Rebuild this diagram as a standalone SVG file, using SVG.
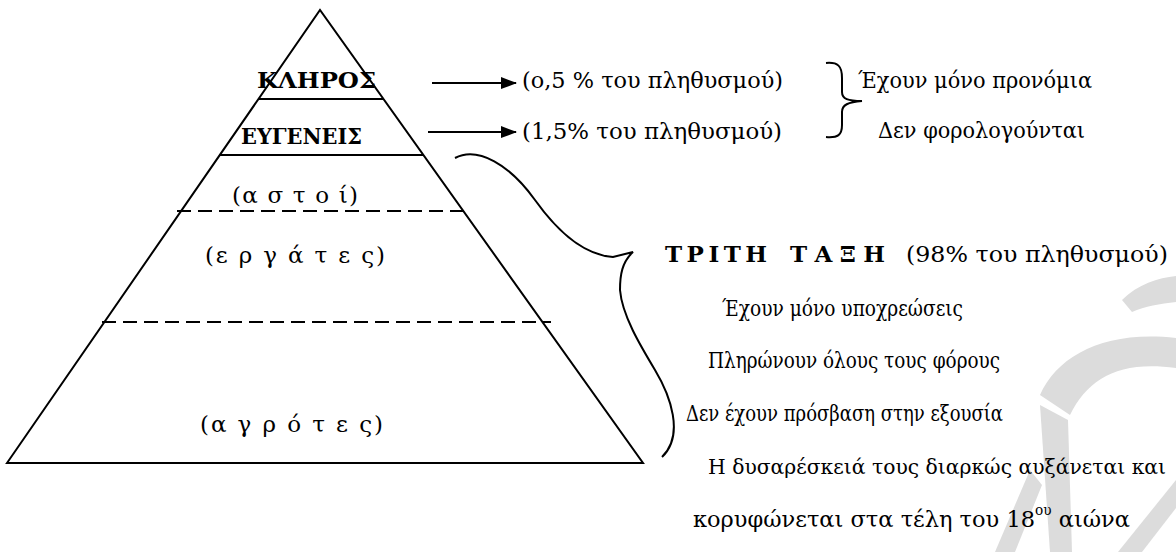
<svg xmlns="http://www.w3.org/2000/svg" width="1176" height="552" viewBox="0 0 1176 552" font-family="'DejaVu Serif', serif">
<defs>
<marker id="ah" markerWidth="16" markerHeight="12" refX="15" refY="6" orient="auto" markerUnits="userSpaceOnUse">
<path d="M0,0 L16,6 L0,12 Z" fill="#000"/>
</marker>
<style>
text{font-family:'DejaVu Serif',serif;fill:#000;font-size:23px}
.b{font-weight:bold}
.sup{font-size:14px}
.sm{font-size:20px}
.ln{stroke:#000;stroke-width:2;fill:none}
.ds{stroke:#000;stroke-width:2;fill:none;stroke-dasharray:14 7}
.br{stroke:#000;stroke-width:2;fill:none}
.wm{fill:#dcdcdc}
</style>
</defs>
<rect width="1176" height="552" fill="#fff"/>
<g id="watermark">
<path class="wm" d="M1122,300 C1138,284 1158,278 1176,276 L1176,302 C1160,304 1145,306 1132,312 Z"/>
<path class="wm" d="M1040,395 C1058,355 1105,330 1176,338 L1176,368 C1120,360 1088,378 1070,415 Z"/>
<path class="wm" d="M1040,405 L1068,420 L1072,552 L1050,552 Z"/>
<path class="wm" d="M995,552 L1030,470 L1042,485 L1015,552 Z"/>
<path class="wm" d="M1118,552 L1176,480 L1176,508 L1142,552 Z"/>
</g>
<g id="pyramid">
<path class="ln" d="M7,463 L320,10 L643,463 Z"/>
<line class="ln" x1="258" y1="99" x2="383" y2="99"/>
<line class="ln" x1="219" y1="155" x2="424" y2="155"/>
<line class="ds" x1="177" y1="211" x2="465" y2="211"/>
<line class="ds" x1="102" y1="322" x2="551" y2="322"/>
</g>
<g id="kleros"><text class="b" x="257" y="88" textLength="119" lengthAdjust="spacingAndGlyphs">ΚΛΗΡΟΣ</text></g>
<g id="eugeneis"><text class="b" x="241" y="144" textLength="121" lengthAdjust="spacingAndGlyphs">ΕΥΓΕΝΕΙΣ</text></g>
<g id="astoi"><text x="232" y="203" textLength="126" lengthAdjust="spacing">(α σ τ ο ί)</text></g>
<g id="ergates"><text x="205" y="263" textLength="180" lengthAdjust="spacing">(ε ρ γ ά τ ε ς)</text></g>
<g id="agrotes"><text x="200" y="432" textLength="183" lengthAdjust="spacing">(α γ ρ ό τ ε ς)</text></g>
<g id="connectors">
<line class="ln" x1="432" y1="83" x2="516" y2="83" marker-end="url(#ah)"/>
<line class="ln" x1="428" y1="132" x2="516" y2="132" marker-end="url(#ah)"/>
<path class="br" d="M826,63 C838,62 842,66 842,78 L842,92 C842,99 848,101 862,101 C848,102 842,105 842,112 L842,125 C842,135 838,138 826,137"/>
<path class="br" d="M455,158 C478,146 510,165 535,200 C560,235 585,255 613,257 L633,252 C622,262 620,275 620,290 C622,315 640,345 655,370 C670,395 685,435 662,457"/>
</g>
<g id="clergy-info"><text x="522" y="88" textLength="261" lengthAdjust="spacingAndGlyphs">(ο,5 % του πληθυσμού)</text></g>
<g id="nobles-info"><text x="522" y="139" textLength="260" lengthAdjust="spacingAndGlyphs">(1,5% του πληθυσμού)</text></g>
<g id="privileges">
<text x="858" y="88" textLength="234" lengthAdjust="spacingAndGlyphs">Έχουν μόνο προνόμια</text>
<text x="878" y="138" textLength="207" lengthAdjust="spacingAndGlyphs">Δεν φορολογούνται</text>
</g>
<g id="third-estate">
<text class="b" x="665" y="262" textLength="102" lengthAdjust="spacing">Τ Ρ Ι Τ Η</text>
<text class="b" x="790" y="262" textLength="95" lengthAdjust="spacing">Τ Α Ξ Η</text>
<text x="906" y="262" textLength="262" lengthAdjust="spacingAndGlyphs">(98% του πληθυσμού)</text>
<text x="722" y="316" textLength="241" lengthAdjust="spacingAndGlyphs">Έχουν μόνο υποχρεώσεις</text>
<text x="708" y="368" textLength="292" lengthAdjust="spacingAndGlyphs">Πληρώνουν όλους τους φόρους</text>
<text x="686" y="421" textLength="317" lengthAdjust="spacingAndGlyphs">Δεν έχουν πρόσβαση στην εξουσία</text>
<text class="sm" x="708" y="474" textLength="458" lengthAdjust="spacingAndGlyphs">Η δυσαρέσκειά τους διαρκώς αυξάνεται και</text>
<text x="693" y="527" textLength="437" lengthAdjust="spacingAndGlyphs">κορυφώνεται στα τέλη του 18<tspan class="sup" dy="-12">ου</tspan><tspan dy="12"> αιώνα</tspan></text>
</g>
</svg>
